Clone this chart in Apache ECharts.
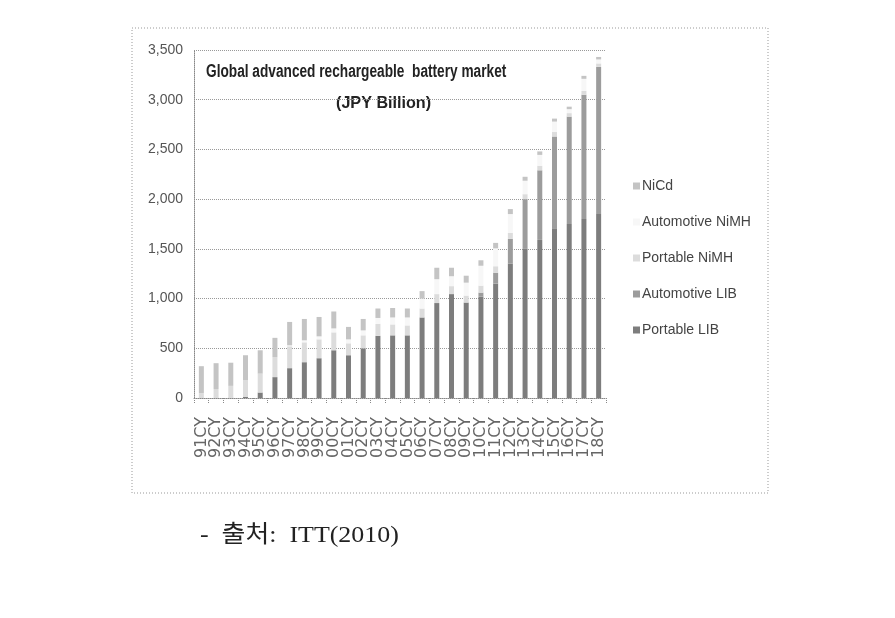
<!DOCTYPE html>
<html><head><meta charset="utf-8">
<script src="https://cdn.jsdelivr.net/npm/echarts@6/dist/echarts.min.js"></script>
<style>html,body{margin:0;padding:0;background:#fff;}#c{width:895px;height:618px;}</style>
</head><body><div id="c"></div>
<script>
var categories = ['91CY','92CY','93CY','94CY','95CY','96CY','97CY','98CY','99CY','00CY','01CY','02CY','03CY','04CY','05CY','06CY','07CY','08CY','09CY','10CY','11CY','12CY','13CY','14CY','15CY','16CY','17CY','18CY'];
var portableLIB    = [0,0,2,10,55,210,300,360,400,480,430,500,625,630,630,810,955,1045,960,1020,1150,1350,1500,1590,1700,1750,1800,1850];
var automotiveLIB  = [0,0,0,0,0,0,0,0,0,0,0,0,0,0,0,0,0,0,0,40,110,250,500,700,930,1080,1250,1480];
var portableNiMH   = [50,90,120,170,190,200,220,200,190,180,120,130,120,110,100,90,90,80,70,70,65,60,50,45,45,35,40,35];
var automotiveNiMH = [0,0,0,0,0,0,10,20,30,40,40,50,60,70,80,100,150,100,130,200,180,190,135,110,105,40,120,40];
var niCd           = [270,260,233,250,235,195,235,215,195,170,125,115,95,95,90,75,115,85,70,55,55,50,40,35,30,25,30,25];
var yTicks = [0,500,1000,1500,2000,2500,3000,3500];

var sans = '"Liberation Sans Narrow","Liberation Sans",Arial,sans-serif';
var chart = echarts.init(document.getElementById('c'));
function s(name, data, color){
  return {name:name, type:'bar', stack:'t', data:data, barWidth:5,
    itemStyle:{color:color, borderWidth:0}};
}
chart.setOption({
  animation:false,
  backgroundColor:'#fff',
  grid:{left:194, right:289, top:50, bottom:220, containLabel:false},
  xAxis:{type:'category', data:categories,
    axisLine:{lineStyle:{color:'#888', type:'dotted'}},
    axisTick:{show:true, length:5, lineStyle:{color:'#888', type:'dotted'}},
    axisLabel:{rotate:90, interval:0, fontSize:16, color:'#666', fontFamily:'"DejaVu Sans",sans-serif', margin:19}},
  yAxis:{type:'value', min:yTicks[0], max:yTicks[yTicks.length-1], interval:500,
    axisLine:{show:true, lineStyle:{color:'#888', type:'dotted'}},
    axisTick:{show:false},
    splitLine:{lineStyle:{color:'#999', type:'dotted'}},
    axisLabel:{fontSize:14, color:'#555', fontFamily:sans, margin:11,
      formatter:function(v){return v.toLocaleString('en-US');}}},
  legend:{orient:'vertical', left:628, top:174, itemGap:22, itemWidth:7, itemHeight:7,
    icon:'rect', textStyle:{fontSize:14, color:'#444', fontFamily:sans, padding:[0,0,0,-3]},
    data:['NiCd','Automotive NiMH','Portable NiMH','Automotive LIB','Portable LIB']},
  series:[
    s('Portable LIB', portableLIB, '#7d7d7d'),
    s('Automotive LIB', automotiveLIB, '#9c9c9c'),
    s('Portable NiMH', portableNiMH, '#dcdcdc'),
    s('Automotive NiMH', automotiveNiMH, '#f7f7f7'),
    s('NiCd', niCd, '#c4c4c4')
  ],
  graphic:[
    {type:'rect', shape:{x:132, y:28, width:636, height:465}, silent:true,
      style:{fill:'none', stroke:'#999', lineWidth:1, lineDash:[1,2]}, z:-1},
    {type:'text', x:206, y:63, scaleX:0.76, style:{text:'Global advanced rechargeable  battery market',
      font:'bold 18px '+sans, fill:'#222'}},
    {type:'text', x:336, y:95, scaleX:0.95, style:{text:'(JPY Billion)',
      font:'bold 17px '+sans, fill:'#222'}},
    {type:'text', x:200, y:524, scaleX:1.08, style:{text:'-  출처:  ITT(2010)',
      font:'24px "Liberation Serif","Noto Sans CJK KR",serif', fill:'#222'}}
  ]
});
</script></body></html>
